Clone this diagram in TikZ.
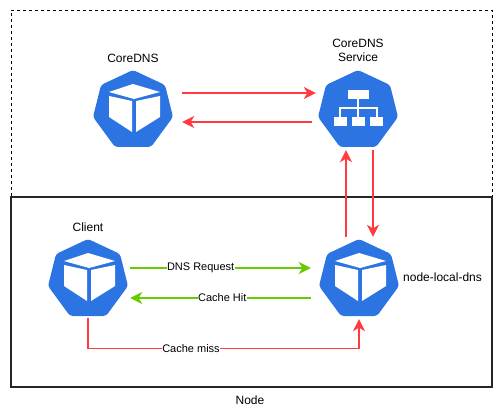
\documentclass[tikz,border=0pt]{standalone}
\usepackage{fontspec}
\setmainfont{Liberation Sans}
\usepackage{xcolor}
\usepackage{tikz}
\usetikzlibrary{positioning,arrows.meta}

\definecolor{kubeblue}{HTML}{2C74E2}
\definecolor{linkred}{HTML}{FF3B3F}
\definecolor{linkgreen}{HTML}{66CC00}

\begin{document}
\begin{tikzpicture}[
  x=1pt, y=-1pt,
  hull/.style={fill=kubeblue, rounded corners=3pt},
  podface/.style={fill=white},
  iconbox/.style={inner sep=0pt, minimum height=#1},
  iconbox/.default=82pt,
  caption/.style={font=\fontsize{12}{14}\selectfont, align=center, inner sep=0pt},
  linklabel/.style={font=\fontsize{11}{13}\selectfont, fill=white, inner sep=0.5pt, text=black},
  redarrow/.style={-{Stealth[length=12pt,width=12pt,inset=3.5pt]}, draw=linkred, line width=1.4pt},
  greenarrow/.style={-{Stealth[length=12pt,width=12pt,inset=3.5pt]}, draw=linkgreen, line width=1.4pt},
  heptagon/.pic={
    \fill[hull] (0,-40) -- (32,-25) -- (40,7) -- (18,37) -- (-18,37) -- (-40,7) -- (-32,-25) -- cycle;
  },
  podcube/.pic={
    \fill[podface] (-24,-18) -- (0,-26) -- (27,-18) -- (1,-11) -- cycle;
    \fill[podface] (-24,-14) -- (-24,7) -- (-1,22) -- (-1,-9) -- cycle;
    \fill[podface] (3,-9) -- (27,-14) -- (27,7) -- (3,22) -- cycle;
  },
  svctree/.pic={
    \fill[podface] (-10,-20) rectangle (11,-11);
    \fill[podface] (-24,7) rectangle (-11,16);
    \fill[podface] (-6,7) rectangle (7,16);
    \fill[podface] (12,7) rectangle (25,16);
    \draw[white, line width=1.3pt] (0,-11) -- (0,7) (-18,7) -- (-18,-2) -- (19,-2) -- (19,7);
  }
]
  \useasboundingbox (0,0) rectangle (502,419);

  % Boxes
  \node[draw, dash pattern=on 3pt off 3pt, line width=0.8pt, minimum width=481pt, minimum height=187pt, inner sep=0pt] (cluster) at (251.5,103.5) {};
  \node[draw=black!85, line width=2pt, minimum width=481pt, minimum height=190pt, inner sep=0pt] (worker) at (251.5,292) {};

  % Icons
  \pic at (133,110) {heptagon};
  \pic at (133,110) {podcube};
  \pic at (358,110) {heptagon};
  \pic at (358,110) {svctree};
  \pic at (88,279) {heptagon};
  \pic at (88,279) {podcube};
  \pic at (359,279) {heptagon};
  \pic at (359,279) {podcube};

  % Nodes
  \node[iconbox=80pt, minimum width=98pt] (coredns) at (133,110) {};
  \node[iconbox=80pt, minimum width=84pt] (service) at (358,110) {};
  \node[iconbox, minimum width=84pt] (client) at (88,277) {};
  \node[iconbox, minimum width=96pt] (localdns) at (359,278) {};

  % Labels
  \node[caption] (corednslabel) at (133,58) {CoreDNS};
  \node[caption] (servicelabel) at (358,50) {CoreDNS\\Service};
  \node[caption] (clientlabel) at (88,227) {Client};
  \node[caption, anchor=west] (locallabel) at (403,277) {node-local-dns};
  \node[caption] (nodelabel) at (250,400) {Node};

  % Arrows
  \draw[redarrow] ([yshift=17pt]coredns.east) -- ([yshift=17pt]service.west);
  \draw[redarrow, shorten <=4pt] ([yshift=-12pt]service.west) -- ([yshift=-12pt]coredns.east);
  \draw[redarrow] ([xshift=-13pt]localdns.north) to[out=90, in=-90] ([xshift=-12pt]service.south);
  \draw[redarrow] ([xshift=15pt]service.south) -- ([xshift=14pt]localdns.north);
  \draw[greenarrow] ([yshift=9pt]client.east) -- node[linklabel, pos=0.39] {DNS Request} ([yshift=10pt]localdns.west);
  \draw[greenarrow] ([yshift=-20pt]localdns.west) -- node[linklabel, pos=0.49] {Cache Hit} ([yshift=-21pt]client.east);
  \draw[redarrow] (client.south) -- ++(0,30) -| node[linklabel, pos=0.19] {Cache miss} (localdns.south);
\end{tikzpicture}
\end{document}
